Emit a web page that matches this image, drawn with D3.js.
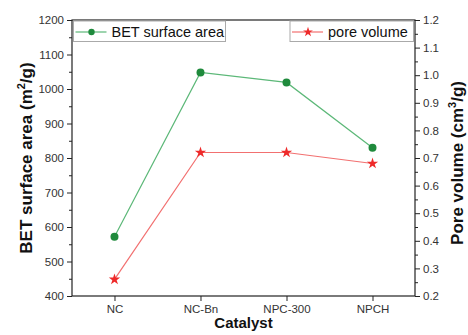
<!DOCTYPE html>
<html><head><meta charset="utf-8">
<script src="https://cdn.jsdelivr.net/npm/d3@7"></script>
<style>body{margin:0;background:#fff}svg{display:block}text{font-family:"Liberation Sans",Arial,sans-serif}</style>
</head><body><svg id="c" width="468" height="335"></svg>
<script>
const categories = ["NC","NC-Bn","NPC-300","NPCH"];
const betArea = [572,1048,1019,830];
const poreVolume = [0.26,0.72,0.72,0.68];
const leftTicks = [400,500,600,700,800,900,1000,1100,1200];
const rightTicks = [0.2,0.3,0.4,0.5,0.6,0.7,0.8,0.9,1.0,1.1,1.2];

const svg = d3.select("#c");
const L=72,R=415,T=20,B=296;
const x = d3.scalePoint().domain(categories).range([L,R]).padding(0.494);
const yL = d3.scaleLinear().domain([400,1200]).range([B,T]);
const yR = d3.scaleLinear().domain([0.2,1.2]).range([B,T]);
const axisCol="#222", tickCol="#333";

// frame
svg.append("rect").attr("x",L).attr("y",T).attr("width",R-L).attr("height",B-T)
  .attr("fill","none").attr("stroke",axisCol).attr("stroke-width",1.2);

// left axis
const gL = svg.append("g").attr("transform",`translate(${L},0)`);
gL.call(d3.axisLeft(yL).tickValues(d3.range(450,1200,100)).tickSize(3).tickFormat(""));
gL.call(g=>g.select(".domain").remove());
const gL2 = svg.append("g").attr("transform",`translate(${L},0)`);
gL2.call(d3.axisLeft(yL).tickValues(leftTicks).tickSize(5).tickPadding(3).tickFormat(d3.format("d")));
gL2.select(".domain").remove();
// right axis
const gR = svg.append("g").attr("transform",`translate(${R},0)`);
gR.call(d3.axisRight(yR).tickValues(d3.range(0.25,1.2,0.1)).tickSize(3).tickFormat(""));
gR.select(".domain").remove();
const gR2 = svg.append("g").attr("transform",`translate(${R},0)`);
gR2.call(d3.axisRight(yR).tickValues(rightTicks).tickSize(5).tickPadding(3).tickFormat(d3.format(".1f")));
gR2.select(".domain").remove();
// x axis
const gX = svg.append("g").attr("transform",`translate(0,${B})`);
gX.call(d3.axisBottom(x).tickSize(5).tickPadding(4));
gX.select(".domain").remove();

svg.selectAll(".tick line").attr("stroke",axisCol).attr("stroke-width",1);
svg.selectAll(".tick text").attr("fill",tickCol).style("font-size","11.5px").style("font-family",'"Liberation Sans",Arial,sans-serif');

// titles
svg.append("text").attr("transform",`translate(32,${(T+B)/2}) rotate(-90)`).attr("text-anchor","middle")
  .style("font-size","17px").style("font-weight","bold").attr("fill","#111")
  .html('BET surface area (m<tspan dy="-7" style="font-size:11px">2</tspan><tspan dy="7">/g)</tspan>');
svg.append("text").attr("transform",`translate(463,${(T+B)/2+5}) rotate(-90)`).attr("text-anchor","middle")
  .style("font-size","17px").style("font-weight","bold").attr("fill","#111")
  .html('Pore volume (cm<tspan dy="-7" style="font-size:11px">3</tspan><tspan dy="7">/g)</tspan>');
svg.append("text").attr("x",(L+R)/2).attr("y",327.5).attr("text-anchor","middle")
  .style("font-size","15px").style("font-weight","bold").attr("fill","#111").text("Catalyst");

const green="#1f8a3c", greenLine="#5cb878", red="#ee2a2a", redLine="#f27070";
const star = d3.symbol().type(d3.symbolStar).size(40);

// lines
svg.append("path").datum(categories.map((c,i)=>[x(c),yL(betArea[i])]))
  .attr("d",d3.line()).attr("fill","none").attr("stroke",greenLine).attr("stroke-width",1.2);
svg.append("path").datum(categories.map((c,i)=>[x(c),yR(poreVolume[i])]))
  .attr("d",d3.line()).attr("fill","none").attr("stroke",redLine).attr("stroke-width",1.2);
svg.selectAll(".bet").data(categories).join("circle").attr("cx",d=>x(d)).attr("cy",(d,i)=>yL(betArea[i]))
  .attr("r",4).attr("fill",green);
svg.selectAll(".pv").data(categories).join("path")
  .attr("transform",(d,i)=>`translate(${x(d)},${yR(poreVolume[i])})`).attr("d",star).attr("fill",red);

// legends
function legend(x0,x1,label,col,lcol,marker){
  const g=svg.append("g");
  g.append("rect").attr("x",x0).attr("y",T+1).attr("width",x1-x0).attr("height",20.5)
    .attr("fill","#fff").attr("stroke","#aaa").attr("stroke-width",1);
  const cy=T+12;
  g.append("line").attr("x1",x0+2).attr("x2",x0+33).attr("y1",cy).attr("y2",cy).attr("stroke",lcol).attr("stroke-width",1.2);
  if(marker==="c") g.append("circle").attr("cx",x0+18).attr("cy",cy).attr("r",3.2).attr("fill",col);
  else g.append("path").attr("transform",`translate(${x0+18},${cy})`).attr("d",d3.symbol().type(d3.symbolStar).size(30)).attr("fill",col);
  g.append("text").attr("x",x0+38).attr("y",cy+5).style("font-size","14.5px").attr("fill","#111").text(label);
}
legend(73.5,225.5,"BET surface area",green,greenLine,"c");
legend(290,413.5,"pore volume",red,redLine,"s");
</script></body></html>
